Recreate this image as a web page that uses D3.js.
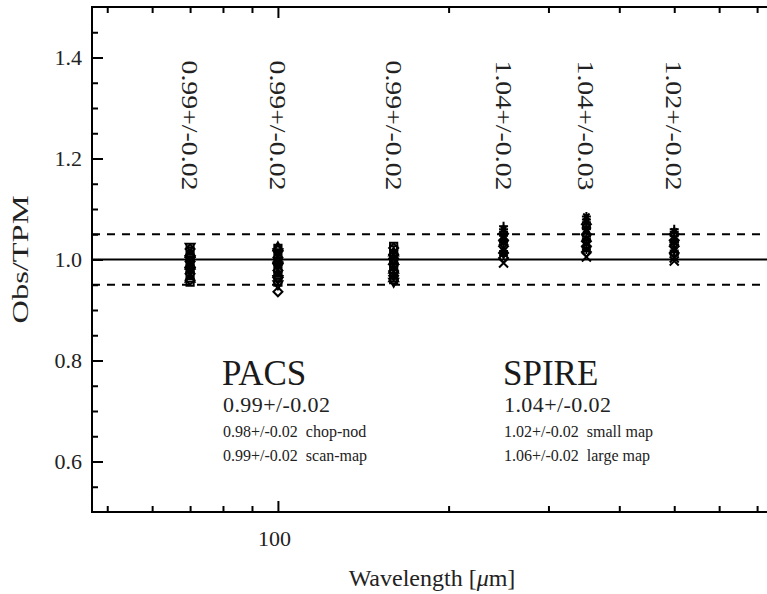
<!DOCTYPE html>
<html><head><meta charset="utf-8">
<script src="https://cdn.jsdelivr.net/npm/d3@7"></script>
<style>body{margin:0;background:#fff}svg{display:block}</style>
</head><body><svg id="c" width="767" height="594"></svg>
<script>
// ---- data ----
const wavelengths = [70, 100, 160, 250, 350, 500];
const bandLabels = ["0.99+/-0.02","0.99+/-0.02","0.99+/-0.02","1.04+/-0.02","1.04+/-0.03","1.02+/-0.02"];
const v70  = [1.024,1.021,1.017,1.012,1.008,1.003,0.999,0.996,0.993,0.989,0.985,0.981,0.976,0.972,0.968,0.963,0.959,0.955];
const s70  = ["tD","d","s","t","d","s","tD","d","s","t","d","s","tD","d","s","t","d","s"];
const v100 = [1.025,1.022,1.018,1.013,1.009,1.004,1.000,0.996,0.991,0.987,0.982,0.978,0.973,0.969,0.964,0.960,0.955,0.950,0.936];
const s100 = ["t","s","d","tD","s","d","t","s","d","tD","s","d","t","s","d","tD","s","tD","d"];
const v160 = [1.026,1.023,1.019,1.015,1.010,1.006,1.002,0.998,0.994,0.990,0.986,0.981,0.977,0.972,0.968,0.964,0.960,0.955];
const s160 = ["s","d","s","t","d","s","d","t","s","d","s","t","d","s","d","t","s","tD"];
const v250 = [1.066,1.060,1.055,1.051,1.047,1.043,1.038,1.034,1.030,1.026,1.022,1.017,1.013,1.008,1.003,0.993];
const s250 = ["p","a","p","d","a","x","d","a","p","d","x","a","d","p","d","x"];
const v350 = [1.085,1.079,1.074,1.070,1.065,1.060,1.055,1.050,1.045,1.041,1.036,1.031,1.026,1.020,1.015,1.005];
const s350 = ["a","p","a","d","p","a","x","d","p","a","d","x","d","a","d","x"];
const v500 = [1.060,1.055,1.050,1.046,1.042,1.038,1.034,1.030,1.026,1.022,1.018,1.013,1.008,1.003,0.997];
const s500 = ["p","a","d","p","x","d","a","p","d","x","a","d","p","x","x"];
const xMajorTicks = [100];
const xMinorTicks = [50,60,70,80,90,200,300,400,500,600,700];
const yMajorTicks = [0.6,0.8,1.0,1.2,1.4];
const yMinorTicks = [0.55,0.65,0.7,0.75,0.85,0.9,0.95,1.05,1.1,1.15,1.25,1.3,1.35,1.45];
const refLines = [{v:1.0,dash:null},{v:0.95,dash:"8,7"},{v:1.05,dash:"8,7"}];
const groupNames = ["PACS","SPIRE"];
const groupTotals = ["0.99+/-0.02","1.04+/-0.02"];
const groupLines = [["0.98+/-0.02  chop-nod","0.99+/-0.02  scan-map"],["1.02+/-0.02  small map","1.06+/-0.02  large map"]];
const columns = [v70, v100, v160, v250, v350, v500];
const colSymbols = [s70, s100, s160, s250, s350, s500];

const FONT = "'Liberation Serif','Times New Roman',serif";
const svg = d3.select("#c");
const L = 92, T = 7, B = 512;
const x = d3.scaleLog().domain([47, 800]).range([L, L + 567*Math.log10(800/47)]);
const y = d3.scaleLinear().domain([0.5, 1.5]).range([B, T]);
const R = x.range()[1];

svg.append("rect").attr("x",L).attr("y",T).attr("width",R-L).attr("height",B-T)
  .attr("fill","none").attr("stroke","#000").attr("stroke-width",2);

function axisG(ax, tf){ const g = svg.append("g").attr("transform",tf).call(ax);
  g.attr("font-family",FONT);
  g.select(".domain").remove();
  g.selectAll("line").attr("stroke","#000").attr("stroke-width",2);
  g.selectAll("text").style("font-family",FONT).attr("fill","#222");
  return g; }

axisG(d3.axisBottom(x).tickValues(xMajorTicks).tickSize(-11).tickPadding(18).tickFormat(d3.format("d")), `translate(0,${B})`)
  .selectAll("text").style("font-size","22px").attr("dx",-4);
axisG(d3.axisBottom(x).tickValues(xMinorTicks).tickSize(-6).tickFormat(""), `translate(0,${B})`);
axisG(d3.axisTop(x).tickValues(xMajorTicks).tickSize(-11).tickFormat(""), `translate(0,${T})`);
axisG(d3.axisTop(x).tickValues(xMinorTicks).tickSize(-6).tickFormat(""), `translate(0,${T})`);
axisG(d3.axisLeft(y).tickValues(yMajorTicks).tickSize(-11).tickPadding(10).tickFormat(d3.format(".1f")), `translate(${L},0)`)
  .selectAll("text").style("font-size","22px");
axisG(d3.axisLeft(y).tickValues(yMinorTicks).tickSize(-6).tickFormat(""), `translate(${L},0)`);

svg.selectAll(".ref").data(refLines).join("line")
  .attr("x1",L).attr("x2",R).attr("y1",d=>y(d.v)).attr("y2",d=>y(d.v))
  .attr("stroke","#000").attr("stroke-width",d=>d.dash?1.8:2).attr("stroke-dasharray",d=>d.dash);

function sym(type, r){
  switch(type){
    case "d": return `M0,${-r}L${r},0L0,${r}L${-r},0Z`;
    case "s": return `M${-r*0.8},${-r*0.8}h${1.6*r}v${1.6*r}h${-1.6*r}Z`;
    case "t": return `M0,${-r}L${r},${r*0.8}L${-r},${r*0.8}Z`;
    case "tD": return `M0,${r}L${r},${-r*0.8}L${-r},${-r*0.8}Z`;
    case "p": return `M${-r},0H${r}M0,${-r}V${r}`;
    case "x": return `M${-r},${-r}L${r},${r}M${-r},${r}L${r},${-r}`;
    case "a": return `M${-r},0H${r}M0,${-r}V${r}M${-r*0.7},${-r*0.7}L${r*0.7},${r*0.7}M${-r*0.7},${r*0.7}L${r*0.7},${-r*0.7}`;
  }
}
const pts = [];
columns.forEach((vals,i)=>vals.forEach((v,j)=>pts.push({w:wavelengths[i], v, s:colSymbols[i][j]})));
svg.append("g").selectAll("path").data(pts).join("path")
  .attr("transform",d=>`translate(${x(d.w)},${y(d.v)})`)
  .attr("d",d=>sym(d.s,4.5)).attr("fill","none").attr("stroke","#000").attr("stroke-width",2);

function txt(){ return svg.append("text").style("font-family",FONT).attr("fill","#222"); }

wavelengths.forEach((w,i)=>{
  txt().attr("transform",`translate(${x(w)-8},${y(1.4)+3}) rotate(90)`)
    .style("font-size","24px").attr("textLength",130).attr("lengthAdjust","spacingAndGlyphs").text(bandLabels[i]);
});

const gx = [222, 503];
groupNames.forEach((n,i)=>{
  txt().attr("x",gx[i]).attr("y",385).style("font-size","35px").attr("fill","#1a1a1a").text(n);
  txt().attr("x",gx[i]+1).attr("y",412).style("font-size","22px").attr("textLength",107).text(groupTotals[i]);
  groupLines[i].forEach((t,k)=>txt().attr("x",gx[i]+1).attr("y",437+k*24).style("font-size","16px")
    .style("white-space","pre").text(t));
});

txt().attr("transform",`translate(28,${y(1.0)}) rotate(-90)`).attr("text-anchor","middle")
  .style("font-size","24px").attr("textLength",128).attr("lengthAdjust","spacingAndGlyphs").text("Obs/TPM");
const xt = txt().attr("x",432).attr("y",586).attr("text-anchor","middle").style("font-size","24px");
xt.append("tspan").text("Wavelength [");
xt.append("tspan").attr("font-style","italic").text("μ");
xt.append("tspan").text("m]");
</script></body></html>
